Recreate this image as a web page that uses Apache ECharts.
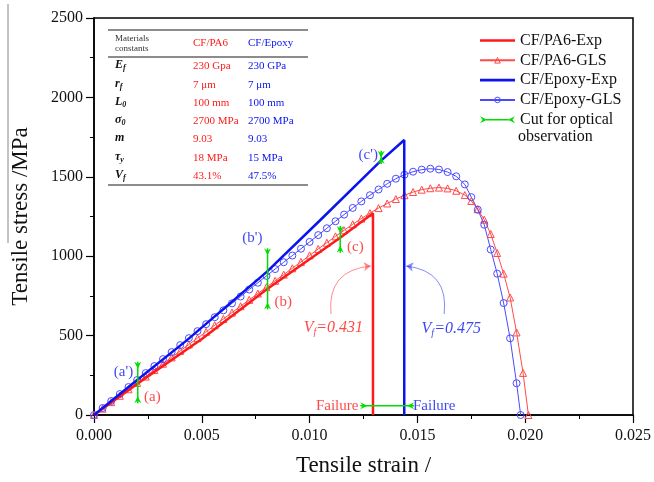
<!DOCTYPE html>
<html><head><meta charset="utf-8">
<script src="https://cdn.jsdelivr.net/npm/echarts@6/dist/echarts.min.js"></script>
<style>html,body{margin:0;padding:0;background:#fff}#c{width:654px;height:482px}</style>
</head><body><div id="c"></div>
<script>
// ---------------- data ----------------
const pa6ExpStrain = [0, 0.002, 0.005, 0.008, 0.0114, 0.01294, 0.01294];
const pa6ExpStress = [0, 196, 478, 790, 1115, 1270, 0];
const epoxyExpStrain = [0, 0.002, 0.0043, 0.008, 0.0105, 0.0133, 0.01439, 0.01439];
const epoxyExpStress = [0, 220, 470, 900, 1228, 1600, 1732, 0];

const pa6GlsStrain = [0,0.0004,0.0008,0.0012,0.0016,0.002,0.0024,0.0028,0.0032,0.0036,0.004,0.0044,0.0048,0.0052,0.0056,0.006,0.0064,0.0068,0.0072,0.0076,0.008,0.0084,0.0088,0.0092,0.0096,0.01,0.0104,0.0108,0.0112,0.0116,0.012,0.0124,0.0128,0.0132,0.0136,0.014,0.0144,0.0148,0.0152,0.0156,0.016,0.0164,0.0168,0.0172,0.0175,0.0178,0.0181,0.0184,0.0187,0.019,0.0193,0.0196,0.0199,0.02015];
const pa6GlsStress = [0,40,81,121,162,202,242,283,323,363,404,444,484,524,565,605,645,685,725,765,805,845,884,924,964,1005,1046,1085,1125,1163,1201,1237,1271,1303,1332,1360,1384,1404,1419,1428,1432,1427,1412,1385,1348,1296,1230,1140,1020,890,740,520,265,0];

const epoxyGlsStrain = [0,0.0004,0.0008,0.0012,0.0016,0.002,0.0024,0.0028,0.0032,0.0036,0.004,0.0044,0.0048,0.0052,0.0056,0.006,0.0064,0.0068,0.0072,0.0076,0.008,0.0084,0.0088,0.0092,0.0096,0.01,0.0104,0.0108,0.0112,0.0116,0.012,0.0124,0.0128,0.0132,0.0136,0.014,0.0144,0.0148,0.0152,0.0156,0.016,0.0164,0.0168,0.0172,0.0175,0.0178,0.0181,0.0184,0.0187,0.019,0.0193,0.0196,0.01979];
const epoxyGlsStress = [0,44,88,132,176,220,264,308,352,396,440,484,528,572,616,659,703,746,790,833,876,919,962,1004,1047,1090,1133,1176,1220,1262,1304,1345,1384,1420,1456,1488,1513,1532,1545,1551,1546,1530,1503,1452,1372,1293,1198,1042,890,705,483,200,0];

// cut marks: [strain1, stress1, strain2, stress2]
const cutMarks = [
  [0.00203, 336, 0.00203, 74],
  [0.00805, 1050, 0.00805, 665],
  [0.01332, 1664, 0.01332, 1581],
  [0.01142, 1190, 0.01142, 1022],
  [0.01235, 58, 0.01485, 58]
];
const redLabels = [[0.00271, 113, '(a)'], [0.00878, 712, '(b)'], [0.01212, 1058, '(c)'], [0.01128, 57, 'Failure']];
const blueLabels = [[0.00137, 271, "(a')"], [0.00735, 1115, "(b')"], [0.01272, 1637, "(c')"], [0.01578, 57, 'Failure']];
const vfLabels = [[0.0111, 548, '0.431'], [0.01657, 541, '0.475']];
const redArc = [[0.01099, 636], [0.01284, 938]];
const blueArc = [[0.01624, 636], [0.01448, 938]];

const xTickLabels = ['0.000','0.005','0.010','0.015','0.020','0.025'];
const yTickLabels = ['0','500','1000','1500','2000','2500'];
const tableHeader = ['CF/PA6', 'CF/Epoxy'];
const tableSymbols = [['E','f'],['r','f'],['L','0'],['σ','0'],['m',''],['τ','y'],['V','f']];
const tablePA6 = ['230 Gpa','7 μm','100 mm','2700 MPa','9.03','18 MPa','43.1%'];
const tableEpoxy = ['230 GPa','7 μm','100 mm','2700 MPa','9.03','15 MPa','47.5%'];

// ---------------- chart ----------------
const zip = (a, b) => a.map((v, i) => [v, b[i]]);
const SERIF = '"Liberation Serif", "DejaVu Serif", serif';
const RED = '#ff1a1a', BLUE = '#0a14f0', GREEN = '#00dd00';
const RED2 = '#ff4a4a', BLUE2 = '#4a4aff';
const chart = echarts.init(document.getElementById('c'), null, {renderer: 'canvas'});

const graphics = [];
graphics.push({type: 'line', shape: {x1: 8, y1: 4, x2: 8, y2: 243}, style: {stroke: '#888', lineWidth: 1}});
[30, 57, 185].forEach(y => graphics.push({type: 'line', shape: {x1: 108, y1: y, x2: 308, y2: y}, style: {stroke: '#666', lineWidth: 1.5}}));
graphics.push({type: 'text', left: 115, top: 34, style: {text: 'Materials\nconstants', font: '9px ' + SERIF, fill: '#333', lineHeight: 10}});
graphics.push({type: 'text', left: 193, top: 38, style: {text: tableHeader[0], font: '11px ' + SERIF, fill: RED}});
graphics.push({type: 'text', left: 248, top: 38, style: {text: tableHeader[1], font: '11px ' + SERIF, fill: BLUE}});
const rowY = [67, 86, 104, 122, 140, 159, 177];
tableSymbols.forEach((s, i) => {
  graphics.push({type: 'text', left: 115, top: rowY[i] - 8, style: {
    text: '{m|' + s[0] + '}' + (s[1] ? '{s|' + s[1] + '}' : ''),
    rich: {m: {font: 'italic bold 12px ' + SERIF, fill: '#111'}, s: {font: 'italic bold 8px ' + SERIF, fill: '#111', padding: [6, 0, 0, 0]}}
  }});
  graphics.push({type: 'text', left: 193, top: rowY[i] - 6, style: {text: tablePA6[i], font: '11px ' + SERIF, fill: RED}});
  graphics.push({type: 'text', left: 248, top: rowY[i] - 6, style: {text: tableEpoxy[i], font: '11px ' + SERIF, fill: BLUE}});
});
// second line of the last legend entry
graphics.push({type: 'text', left: 518, top: 129, style: {text: 'observation', font: '16px ' + SERIF, fill: '#111'}});

const lineIcon = 'path://M0,0 L35,0 L35,2.6 L0,2.6 Z';
const cutIcon = 'path://M0,0 L7,3.5 L0,7 L2.5,3.5 Z M6,2.8 L29,2.8 L29,4.2 L6,4.2 Z M35,0 L28,3.5 L35,7 L32.5,3.5 Z';
const hollow = c => ({color: 'rgba(255,255,255,0)', borderColor: c, borderWidth: 1});

const option = {
  animation: false,
  backgroundColor: '#fff',
  textStyle: {fontFamily: SERIF},
  grid: {left: 94, right: 21, top: 18, bottom: 67, containLabel: false, outerBoundsMode: 'none',
         show: true, borderColor: '#000', borderWidth: 1.5, backgroundColor: 'transparent'},
  legend: {
    left: 474, top: 27, orient: 'vertical', itemWidth: 35, itemHeight: 7, itemGap: 2.8,
    textStyle: {fontFamily: SERIF, fontSize: 16, color: '#111', lineHeight: 17},
    data: [
      {name: 'CF/PA6-Exp', icon: lineIcon}, {name: 'CF/PA6-GLS', itemStyle: hollow(RED2)},
      {name: 'CF/Epoxy-Exp', icon: lineIcon}, {name: 'CF/Epoxy-GLS', itemStyle: hollow(BLUE2)},
      {name: 'Cut for optical observation', icon: cutIcon}
    ],
    formatter: n => n === 'Cut for optical observation' ? 'Cut for optical' : n
  },
  xAxis: {
    type: 'value', min: 0, max: 0.025, interval: 0.005,
    name: 'Tensile strain /', nameLocation: 'middle', nameGap: 39,
    nameTextStyle: {fontFamily: SERIF, fontSize: 23, color: '#111'},
    axisLine: {lineStyle: {color: '#000', width: 1.5}},
    axisTick: {show: true, length: 8, lineStyle: {color: '#000', width: 1.2}},
    minorTick: {show: true, splitNumber: 2, length: 4, lineStyle: {color: '#000', width: 1}},
    splitLine: {show: false},
    axisLabel: {fontFamily: SERIF, fontSize: 16, color: '#111', margin: 13,
      formatter: v => xTickLabels[Math.round(v / 0.005)] ?? ''}
  },
  yAxis: {
    type: 'value', min: 0, max: 2500, interval: 500,
    name: 'Tensile stress /MPa', nameLocation: 'middle', nameGap: 62,
    nameTextStyle: {fontFamily: SERIF, fontSize: 23, color: '#111'},
    axisLine: {show: true, lineStyle: {color: '#000', width: 1.5}},
    axisTick: {show: true, length: 8, lineStyle: {color: '#000', width: 1.2}},
    minorTick: {show: true, splitNumber: 2, length: 4, lineStyle: {color: '#000', width: 1}},
    splitLine: {show: false},
    axisLabel: {fontFamily: SERIF, fontSize: 16, color: '#111', margin: 11,
      formatter: v => yTickLabels[Math.round(v / 500)] ?? ''}
  },
  graphic: graphics,
  series: [
    {name: 'CF/PA6-GLS', type: 'line', data: zip(pa6GlsStrain, pa6GlsStress), color: RED2,
     lineStyle: {width: 1, color: RED2}, symbol: 'triangle', symbolSize: 7, showSymbol: true,
     itemStyle: hollow(RED2), z: 3},
    {name: 'CF/Epoxy-GLS', type: 'line', data: zip(epoxyGlsStrain, epoxyGlsStress), color: BLUE2,
     lineStyle: {width: 1, color: BLUE2}, symbol: 'circle', symbolSize: 7, showSymbol: true,
     itemStyle: hollow(BLUE2), z: 3},
    {name: 'CF/PA6-Exp', type: 'line', data: zip(pa6ExpStrain, pa6ExpStress), color: RED,
     lineStyle: {width: 2.5, color: RED}, symbol: 'none', z: 4},
    {name: 'CF/Epoxy-Exp', type: 'line', data: zip(epoxyExpStrain, epoxyExpStress), color: BLUE,
     lineStyle: {width: 2.5, color: BLUE}, symbol: 'none', z: 4},
    {name: 'Cut for optical observation', type: 'custom', color: GREEN, z: 6,
     encode: {x: [0, 2], y: [1, 3]},
     data: cutMarks,
     renderItem: (params, api) => {
       const p1 = api.coord([api.value(0), api.value(1)]);
       const p2 = api.coord([api.value(2), api.value(3)]);
       const dx = p2[0] - p1[0], dy = p2[1] - p1[1];
       const len = Math.hypot(dx, dy), ux = dx / len, uy = dy / len, nx = -uy, ny = ux;
       const L = 7, W = 3.5;
       const wedge = (p, sx, sy) => [
         [p[0] + nx * W, p[1] + ny * W], [p[0] + sx * L, p[1] + sy * L],
         [p[0] - nx * W, p[1] - ny * W], [p[0] + sx * L * 0.35, p[1] + sy * L * 0.35]];
       return {type: 'group', children: [
         {type: 'line', shape: {x1: p1[0], y1: p1[1], x2: p2[0], y2: p2[1]}, style: {stroke: GREEN, lineWidth: 1.5}},
         {type: 'polygon', shape: {points: wedge(p1, ux, uy)}, style: {fill: GREEN}},
         {type: 'polygon', shape: {points: wedge(p2, -ux, -uy)}, style: {fill: GREEN}}
       ]};
     }},
    {name: 'redLabels', type: 'scatter', data: redLabels, symbolSize: 1, itemStyle: {color: 'rgba(0,0,0,0)'}, z: 7,
     label: {show: true, position: 'inside', formatter: p => p.value[2], color: RED,
       fontFamily: SERIF, fontSize: 15}},
    {name: 'blueLabels', type: 'scatter', data: blueLabels, symbolSize: 1, itemStyle: {color: 'rgba(0,0,0,0)'}, z: 7,
     label: {show: true, position: 'inside', formatter: p => p.value[2], color: BLUE,
       fontFamily: SERIF, fontSize: 15}},
    {name: 'vf', type: 'scatter', symbolSize: 1, itemStyle: {color: 'rgba(0,0,0,0)'}, z: 7,
     label: {show: true, position: 'inside', formatter: p => '{i|V}{s|f}{i|=' + p.value[2] + '}'},
     data: vfLabels.map((d, i) => {
       const c = i === 0 ? RED : BLUE;
       return {value: d, label: {rich: {
         i: {color: c, fontFamily: SERIF, fontStyle: 'italic', fontSize: 16},
         s: {color: c, fontFamily: SERIF, fontStyle: 'italic', fontSize: 10, padding: [9, 0, 0, 0]}}}};
     })},
    {name: 'arcs', type: 'lines', coordinateSystem: 'cartesian2d', z: 5,
     symbol: ['none', 'arrow'], symbolSize: 7,
     data: [
       {coords: redArc, lineStyle: {color: RED, width: 1, curveness: 0.5}},
       {coords: blueArc, lineStyle: {color: BLUE, width: 1, curveness: -0.5}}
     ]}
  ]
};
chart.setOption(option);
</script></body></html>
